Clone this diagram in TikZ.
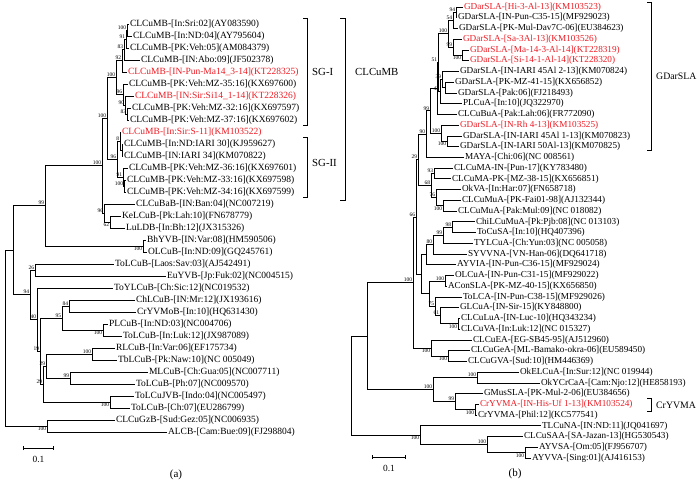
\documentclass[tikz,border=0pt]{standalone}
\usepackage{fontspec}
\setmainfont{Liberation Serif}
\usetikzlibrary{arrows.meta}
\definecolor{hitred}{RGB}{236,28,36}

\begin{document}
\begin{tikzpicture}[
  x=1pt,y=-1pt,
  leaf/.style={anchor=west,inner sep=0.8pt,font=\fontsize{9.5}{10}\selectfont},
  hit/.style={leaf,text=hitred},
  rleaf/.style={leaf,font=\fontsize{9.2}{10}\selectfont},
  rhit/.style={rleaf,text=hitred},
  boot/.style={font=\fontsize{5.5}{5.5}\selectfont,inner sep=0.6pt},
  branch/.style={line width=0.75pt},
  bracket/.style={line width=0.8pt},
  clade/.style={anchor=west,inner sep=0pt,font=\fontsize{10.8}{12}\selectfont},
  scalebar/.style={line width=0.8pt,{Bar[width=4pt]}-{Bar[width=4pt]}}
]
\useasboundingbox (0,0) rectangle (700,482);

% (a) betasatellites
\begin{scope}[y=-12pt,yshift=-12pt]
  \foreach \i/\x/\s/\t in {
    1/129/leaf/{CLCuMB-[In:Sri:02](AY083590)},
    2/132/leaf/{CLCuMB-[In:ND:04](AY795604)},
    3/129/leaf/{CLCuMB-[PK:Veh:05](AM084379)},
    4/140/leaf/{CLCuMB-[IN:Abo:09](JF502378)},
    5/127/hit/{CLCuMB-[IN-Pun-Ma14\_3-14](KT228325)},
    6/128/leaf/{CLCuMB-[PK:Veh:MZ-35:16](KX697600)},
    7/134/hit/{CLCuMB-[IN:Sir:Si14\_1-14](KT228326)},
    8/131/leaf/{CLCuMB-[PK:Veh:MZ-32:16](KX697597)},
    9/129/leaf/{CLCuMB-[PK:Veh:MZ-37:16](KX697602)},
    10/121/hit/{CLCuMB-[In:Sir:S-11](KM103522)},
    11/123/leaf/{CLCuMB-[In:ND:IARI 30](KJ959627)},
    12/123/leaf/{CLCuMB-[IN:IARI 34](KM070822)},
    13/128/leaf/{CLCuMB-[PK:Veh:MZ-36:16](KX697601)},
    14/126/leaf/{CLCuMB-[PK:Veh:MZ-33:16](KX697598)},
    15/126/leaf/{CLCuMB-[PK:Veh:MZ-34:16](KX697599)},
    16/135/leaf/{CLCuBaB-[IN:Ban:04](NC007219)},
    17/121/leaf/{KeLCuB-[Pk:Lah:10](FN678779)},
    18/125/leaf/{LuLDB-[In:Bh:12](JX315326)},
    19/146/leaf/{BhYVB-[IN:Var:08](HM590506)},
    20/147/leaf/{OLCuB-[In:ND:09](GQ245761)},
    21/114/leaf/{ToLCuB-[Laos:Sav:03](AJ542491)},
    22/166/leaf/{EuYVB-[Jp:Fuk:02](NC004515)},
    23/113/leaf/{ToYLCuB-[Ch:Sic:12](NC019532)},
    24/135/leaf/{ChLCuB-[IN:Mr:12](JX193616)},
    25/136/leaf/{CrYVMoB-[In:10](HQ631430)},
    26/108/leaf/{PLCuB-[In:ND:03](NC004706)},
    27/122/leaf/{ToLCuB-[In:Luk:12](JX987089)},
    28/115/leaf/{RLCuB-[In:Var:06](EF175734)},
    29/117/leaf/{TbLCuB-[Pk:Naw:10](NC 005049)},
    30/148/leaf/{MLCuB-[Ch:Gua:05](NC007711)},
    31/135/leaf/{ToLCuB-[Ph:07](NC009570)},
    32/134/leaf/{ToLCuJVB-[Indo:04](NC005497)},
    33/130/leaf/{ToLCuB-[Ch:07](EU286799)},
    34/115/leaf/{CLCuGzB-[Sud:Gez:05](NC006935)},
    35/167/leaf/{ALCB-[Cam:Bue:09](FJ298804)}}
    \node[\s] (a\i) at (\x,\i) {\t};

  % internal nodes: name/x/row
  \foreach \n/\x/\r in {l12/127/1.5, l123/126/2.25, l14/124/3.125, l15/122/4.0625,
    l89/127/8.5, l79/125/7.75, l69/123/6.875, lsg1/116/5.47,
    l1112/122/11.5, l1012/120/10.75, l1415/124/14.5, l1315/123/13.75, lsg2/117/12.25,
    l115/107/8.86, l1718/110/17.5, l1618/104/16.75, lcmb/102/12.8,
    l1920/143/19.5, l99/45/16.15, l2122/35/21.5, l2425/69/24.5, l2627/103/26.5,
    l2427/62/25.5, l2829/92/28.5, l3031/70/30.5, l2831/46/29.5, l3233/110/32.5,
    l2833/43/31, l2433/40/28.25, l2333/37/25.625, l2133/30/23.56, ltop/13/19.86,
    l3435/47/34.5, lroot/5/27.18}
    \coordinate (\n) at (\x,\r);

  \foreach \p/\c in {l12/a1, l12/a2, l123/l12, l123/a3, l14/l123, l14/a4, l15/l14, l15/a5,
    l89/a8, l89/a9, l79/a7, l79/l89, l69/a6, l69/l79, lsg1/l15, lsg1/l69,
    l1112/a11, l1112/a12, l1012/a10, l1012/l1112, l1415/a14, l1415/a15,
    l1315/a13, l1315/l1415, lsg2/l1012, lsg2/l1315, l115/lsg1, l115/lsg2,
    l1718/a17, l1718/a18, l1618/a16, l1618/l1718, lcmb/l115, lcmb/l1618,
    l1920/a19, l1920/a20, l99/lcmb, l99/l1920, l2122/a21, l2122/a22,
    l2425/a24, l2425/a25, l2627/a26, l2627/a27, l2427/l2425, l2427/l2627,
    l2829/a28, l2829/a29, l3031/a30, l3031/a31, l2831/l2829, l2831/l3031,
    l3233/a32, l3233/a33, l2833/l2831, l2833/l3233, l2433/l2427, l2433/l2833,
    l2333/a23, l2333/l2433, l2133/l2122, l2133/l2333, ltop/l99, ltop/l2133,
    l3435/a34, l3435/a35, lroot/ltop, lroot/l3435}
    \draw[branch] (\p) |- (\c);

  \foreach \n/\b in {l12/100, l123/91, l14/83, l15/92, l89/83, l79/90, l69/96, lsg1/100,
    l1012/8, l1415/100, l1315/91, lsg2/96, l115/100, l1618/96, lcmb/100, l99/99,
    l2122/26, l2425/84, l2427/95, l2829/100, l3031/99, l2831/29, l2833/29,
    l2433/19, l2333/40, l2133/94}
    \node[boot,above left] (\n-b) at (\n) {\b};
  \foreach \n/\b in {l1718/62, l1920/100, l2627/100, l3233/100, l3435/100}
    \node[boot,below left] (\n-b) at (\n) {\b};
\end{scope}

% (b) alphasatellites
\begin{scope}[y=-10.74pt,yshift=3.74pt]
  \foreach \i/\x/\s/\t in {
    1/463/rhit/{GDarSLA-[Hi-3-Al-13](KM103523)},
    2/457/rleaf/{GDarSLA-[IN-Pun-C35-15](MF929023)},
    3/458/rleaf/{GDarSLA-[PK-Mul-Dav7C-06](EU384623)},
    4/462/rhit/{GDarSLA-[Sa-3Al-13](KM103526)},
    5/469/rhit/{GDarSLA-[Ma-14-3-Al-14](KT228319)},
    6/469/rhit/{GDarSLA-[Si-14-1-Al-14](KT228320)},
    7/459/rleaf/{GDarSLA-[IN-IARI 45Al 2-13](KM070824)},
    8/454/rleaf/{GDarSLA-[PK-MZ-41-15](KX656852)},
    9/457/rleaf/{GDarSLA-[Pak:06](FJ218493)},
    10/462/rleaf/{PLCuA-[In:10](JQ322970)},
    11/457/rleaf/{CLCuBuA-[Pak:Lah:06](FR772090)},
    12/459/rhit/{GDarSLA-[IN-Rh 4-13](KM103525)},
    13/462/rleaf/{GDarSLA-[IN-IARI 45Al 1-13](KM070823)},
    14/459/rleaf/{GDarSLA-[IN-IARI 50Al-13](KM070825)},
    15/464/rleaf/{MAYA-[Chi:06](NC 008561)},
    16/453/rleaf/{CLCuMA-IN-[Pun-17](KY783480)},
    17/451/rleaf/{CLCuMA-PK-[MZ-38-15](KX656851)},
    18/461/rleaf/{OkVA-[In:Har:07](FN658718)},
    19/461/rleaf/{CLCuMuA-[PK-Fai01-98](AJ132344)},
    20/457/rleaf/{CLCuMuA-[Pak:Mul:09](NC 018082)},
    21/475/rleaf/{ChiLCuMuA-[Pk:Pjb:08](NC 013103)},
    22/476/rleaf/{ToCuSA-[In:10](HQ407396)},
    23/473/rleaf/{TYLCuA-[Ch:Yun:03](NC 005058)},
    24/467/rleaf/{SYVVNA-[VN-Han-06](DQ641718)},
    25/456/rleaf/{AYVIA-[IN-Pun-C36-15](MF929024)},
    26/454/rleaf/{OLCuA-[IN-Pun-C31-15](MF929022)},
    27/447/rleaf/{AConSLA-[PK-MZ-40-15](KX656850)},
    28/462/rleaf/{ToLCA-[IN-Pun-C38-15](MF929026)},
    29/459/rleaf/{GLCuA-[IN-Sir-15](KY848800)},
    30/460/rleaf/{CLCuLuA-[IN-Luc-10](HQ343234)},
    31/460/rleaf/{CLCuVA-[In:Luk:12](NC 015327)},
    32/472/rleaf/{CLCuEA-[EG-SB45-95](AJ512960)},
    33/470/rleaf/{CLCuGeA-[ML-Bamako-okra-06](EU589450)},
    34/467/rleaf/{CLCuGVA-[Sud:10](HM446369)},
    35/519/rleaf/{OkELCuA-[In:Sur:12](NC 019944)},
    36/540/rleaf/{OkYCrCaA-[Cam:Njo:12](HE858193)},
    37/483/rleaf/{GMusSLA-[PK-Mul-2-06](EU384656)},
    38/479/rhit/{CrYVMA-[IN-His-Uf 1-13](KM103524)},
    39/477/rleaf/{CrYVMA-[Phil:12](KC577541)},
    40/541/rleaf/{TLCuNA-[IN:ND:11](JQ041697)},
    41/523/rleaf/{CLCuSAA-[SA-Jazan-13](HG530543)},
    42/538/rleaf/{AYVSA-[Om:05](FJ956707)},
    43/531/rleaf/{AYVVA-[Sing:01](AJ416153)}}
    \node[\s] (b\i) at (\x,\i) {\t};

  \foreach \n/\x/\r in {r12/456/1.5, r123/453/2.25, r56/462/5.5, r456/453/4.75, r16/448/3.5,
    r89/445/8.5, r79/442/7.75, r710/440/8.875, r110/438/6.19, r111/437/8.59,
    r1314/447/13.5, r1214/441/12.75, r114/430/10.67, r115/426/12.84,
    r1617/434/16.5, r1920/443/19.5, r1820/436/18.75, r1620/431/17.625, r120/418/15.23,
    r2122/452/21.5, r2123/443/22.25, r2124/433/23.125, r2125/426/24.0625,
    r2627/445/26.5, r3031/458/30.5, r2931/440/29.75, r2831/435/28.875, r2631/429/27.6875,
    r2131/421/25.875, r131/416/20.55, r3334/448/33.5, r3234/431/32.75, r134/413/26.65,
    r3536/477/35.5, r3839/475/38.5, r3739/455/37.75, r3539/433/36.625, r139/367/31.64,
    r4243/525/42.5, r4143/487/41.75, r4043/420/40.875, rroot/351/36.26}
    \coordinate (\n) at (\x,\r);

  \foreach \p/\c in {r12/b1, r12/b2, r123/r12, r123/b3, r56/b5, r56/b6, r456/b4, r456/r56,
    r16/r123, r16/r456, r89/b8, r89/b9, r79/b7, r79/r89, r710/r79, r710/b10,
    r110/r16, r110/r710, r111/r110, r111/b11, r1314/b13, r1314/b14, r1214/b12, r1214/r1314,
    r114/r111, r114/r1214, r115/r114, r115/b15, r1617/b16, r1617/b17,
    r1920/b19, r1920/b20, r1820/b18, r1820/r1920, r1620/r1617, r1620/r1820,
    r120/r115, r120/r1620, r2122/b21, r2122/b22, r2123/r2122, r2123/b23,
    r2124/r2123, r2124/b24, r2125/r2124, r2125/b25, r2627/b26, r2627/b27,
    r3031/b30, r3031/b31, r2931/b29, r2931/r3031, r2831/b28, r2831/r2931,
    r2631/r2627, r2631/r2831, r2131/r2125, r2131/r2631, r131/r120, r131/r2131,
    r3334/b33, r3334/b34, r3234/b32, r3234/r3334, r134/r131, r134/r3234,
    r3536/b35, r3536/b36, r3839/b38, r3839/b39, r3739/b37, r3739/r3839,
    r3539/r3536, r3539/r3739, r139/r134, r139/r3539,
    r4243/b42, r4243/b43, r4143/b41, r4143/r4243, r4043/b40, r4043/r4143,
    rroot/r139, rroot/r4043}
    \draw[branch] (\p) |- (\c);

  \foreach \n/\b in {r12/94, r123/54, r456/99, r16/100, r79/39, r110/51, r710/43,
    r1214/100, r114/99, r115/90, r1617/93, r1820/76, r1620/68, r120/29,
    r2122/98, r2123/99, r2124/80, r2627/100, r2931/61, r2831/75, r131/66,
    r134/100, r3536/100, r3739/99, r3539/100, r4143/100}
    \node[boot,above left] (\n-b) at (\n) {\b};
  \foreach \n/\b in {r56/100, r1314/100, r1920/100, r3031/100, r3334/100, r3234/100,
    r3839/100, r4243/100, r4043/100}
    \node[boot,below left] (\n-b) at (\n) {\b};
\end{scope}

% clade brackets
\coordinate (sgIa) at (303,18);   \coordinate (sgIb) at (303,125);
\coordinate (sgIIa) at (303,137); \coordinate (sgIIb) at (303,197);
\coordinate (cmba) at (340,18);   \coordinate (cmbb) at (340,200);
\coordinate (gdara) at (647,2);   \coordinate (gdarb) at (647,150);
\coordinate (crya) at (647,398);  \coordinate (cryb) at (647,411);
\draw[bracket] (sgIa) -- ++(4,0) |- (sgIb);
\draw[bracket] (sgIIa) -- ++(4,0) |- (sgIIb);
\draw[bracket] (cmba) -- ++(5,0) |- (cmbb);
\draw[bracket] (gdara) -- ++(4,0) |- (gdarb);
\draw[bracket] (crya) -- ++(4,0) |- (cryb);
\node[clade] (sgI) at (312,72) {SG-I};
\node[clade] (sgII) at (312,163) {SG-II};
\node[clade] (cmb) at (355,72) {CLCuMB};
\node[clade,font=\fontsize{9.8}{11}\selectfont] (gdar) at (656,76) {GDarSLA};
\node[clade,font=\fontsize{9.8}{11}\selectfont] (cry) at (656,405) {CrYVMA};

% scale bars and panel letters
\coordinate (sa1) at (23,448);  \coordinate (sa2) at (54,448);
\coordinate (sb1) at (372,457); \coordinate (sb2) at (406,457);
\draw[scalebar] (sa1) -- (sa2);
\draw[scalebar] (sb1) -- (sb2);
\node[font=\fontsize{9.4}{10}\selectfont] (sal) at (38.5,459) {0.1};
\node[font=\fontsize{9.4}{10}\selectfont] (sbl) at (389,468) {0.1};
\node[font=\fontsize{11}{12}\selectfont] (pa) at (176,475) {(a)};
\node[font=\fontsize{11}{12}\selectfont] (pb) at (515,474) {(b)};
\end{tikzpicture}
\end{document}
